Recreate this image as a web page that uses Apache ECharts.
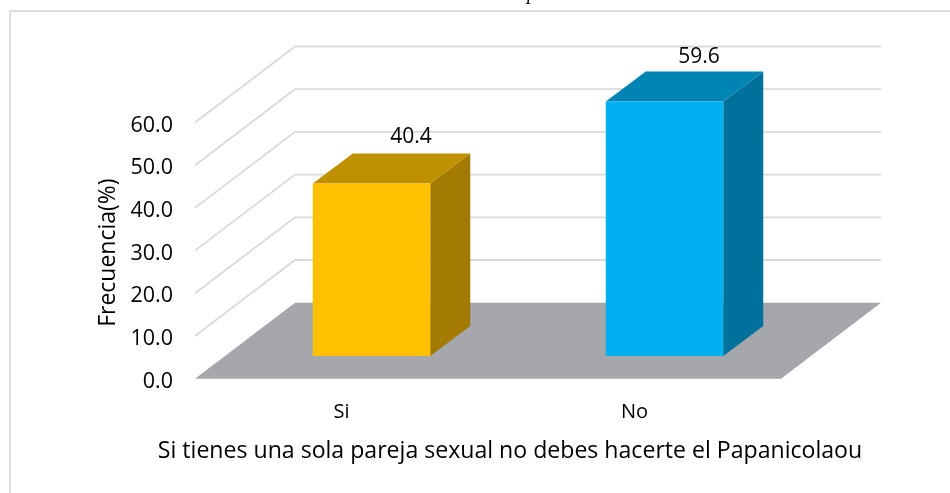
<!DOCTYPE html>
<html>
<head>
<meta charset="utf-8">
<style>html,body{margin:0;padding:0;background:#fff}#c{width:950px;height:493px}</style>
<script src="https://cdn.jsdelivr.net/npm/echarts@6/dist/echarts.min.js"></script>
</head>
<body>
<div id="c"></div>
<script>
const categories = ['Si', 'No'];
const values = [40.4, 59.6];
const valueLabels = ['40.4', '59.6'];
const faceColors = ['#ffc000', '#00b0f0'];
const topColors = ['#bf9000', '#0084b4'];
const sideColors = ['#a37b00', '#00719b'];
const yTicks = [0, 10, 20, 30, 40, 50, 60];
const xTitle = 'Si tienes una sola pareja sexual no debes hacerte el Papanicolaou';
const yTitle = 'Frecuencia(%)';

const FONT = '"Open Sans"';
const WALL = [100, -76];      // depth of the 3D box
const BAR_FRONT = [30, -22.7]; // bar front face offset within the depth
const BAR_DEPTH = [40, -30];
const BAR_W = 117.5;
const LABEL_DX = [19.5, 14.5];
const LABEL_DY = [-16, -14];

const chart = echarts.init(document.getElementById('c'));

function backdrop(params, api) {
  const cs = params.coordSys;
  const tick = api.value(0);
  const y = api.coord([0, tick])[1];
  const x0 = cs.x, x1 = cs.x + cs.width;
  if (tick === 0) {
    return {
      type: 'polygon',
      shape: { points: [[x0, y], [x0 + WALL[0], y + WALL[1]], [x1 + WALL[0], y + WALL[1]], [x1, y]] },
      style: { fill: '#a5a7ad' }
    };
  }
  return {
    type: 'polyline',
    shape: { points: [[x0, y], [x0 + WALL[0], y + WALL[1]], [x1 + WALL[0], y + WALL[1]]] },
    style: { fill: 'none', stroke: '#dadada', lineWidth: 1.8 }
  };
}

function bar3d(params, api) {
  const i = api.value(0);
  const top = api.coord([i, api.value(1)]);
  const base = api.coord([i, 0]);
  const l = top[0] + BAR_FRONT[0] - BAR_W / 2;
  const r = l + BAR_W;
  const t = top[1] + BAR_FRONT[1];
  const b = base[1] + BAR_FRONT[1];
  const dx = BAR_DEPTH[0], dy = BAR_DEPTH[1];
  return {
    type: 'group',
    children: [
      { type: 'polygon', shape: { points: [[r, t], [r + dx, t + dy], [r + dx, b + dy], [r, b]] }, style: { fill: sideColors[i] } },
      { type: 'polygon', shape: { points: [[l, t], [l + dx, t + dy], [r + dx, t + dy], [r, t]] }, style: { fill: topColors[i] } },
      { type: 'rect', shape: { x: l, y: t, width: BAR_W, height: b - t }, style: { fill: faceColors[i] } },
      { type: 'text', style: {
          x: (l + r + dx) / 2 + LABEL_DX[i], y: t + dy + LABEL_DY[i], text: valueLabels[i],
          fill: '#000', font: '21px ' + FONT, align: 'center', verticalAlign: 'middle' } }
    ]
  };
}

chart.setOption({
  animation: false,
  backgroundColor: '#fff',
  textStyle: { fontFamily: FONT },
  grid: { left: 195, top: 122.5, width: 586, height: 256.2 },
  xAxis: {
    type: 'category', data: categories,
    axisLine: { show: false }, axisTick: { show: false }, splitLine: { show: false },
    axisLabel: { color: '#000', fontSize: 20, fontFamily: FONT, margin: 24 },
    name: xTitle, nameLocation: 'middle', nameGap: 61,
    nameTextStyle: { color: '#000', fontSize: 23.1, fontFamily: FONT, padding: [0, 0, 0, 44] }
  },
  yAxis: {
    type: 'value', min: 0, max: 60, interval: 10,
    axisLine: { show: false }, axisTick: { show: false }, splitLine: { show: false },
    axisLabel: { color: '#000', fontSize: 21.5, fontFamily: FONT, margin: 22, verticalAlign: 'top', padding: [-8, 0, 0, 0], formatter: v => v.toFixed(1) },
    name: yTitle, nameLocation: 'middle', nameGap: 75,
    nameTextStyle: { color: '#000', fontSize: 23, fontFamily: FONT, padding: [0, 4, 0, 0] }
  },
  graphic: [
    { type: 'rect', shape: { x: 10, y: 11, width: 1000, height: 600 }, style: { fill: 'none', stroke: '#dcdcdc', lineWidth: 1.8 }, z: 0 },
    { type: 'text', style: { x: 527, y: -16, text: 'p', fill: '#000', font: 'italic 20px "Liberation Serif"' }, z: 0 }
  ],
  series: [
    { type: 'custom', renderItem: backdrop, data: yTicks.map(t => [t]), encode: { y: 0 }, clip: false, z: 1, silent: true },
    { type: 'custom', renderItem: bar3d, data: categories.map((c, i) => [i, values[i]]), encode: { x: 0, y: 1 }, clip: false, z: 2, silent: true }
  ]
});
</script>
</body>
</html>
